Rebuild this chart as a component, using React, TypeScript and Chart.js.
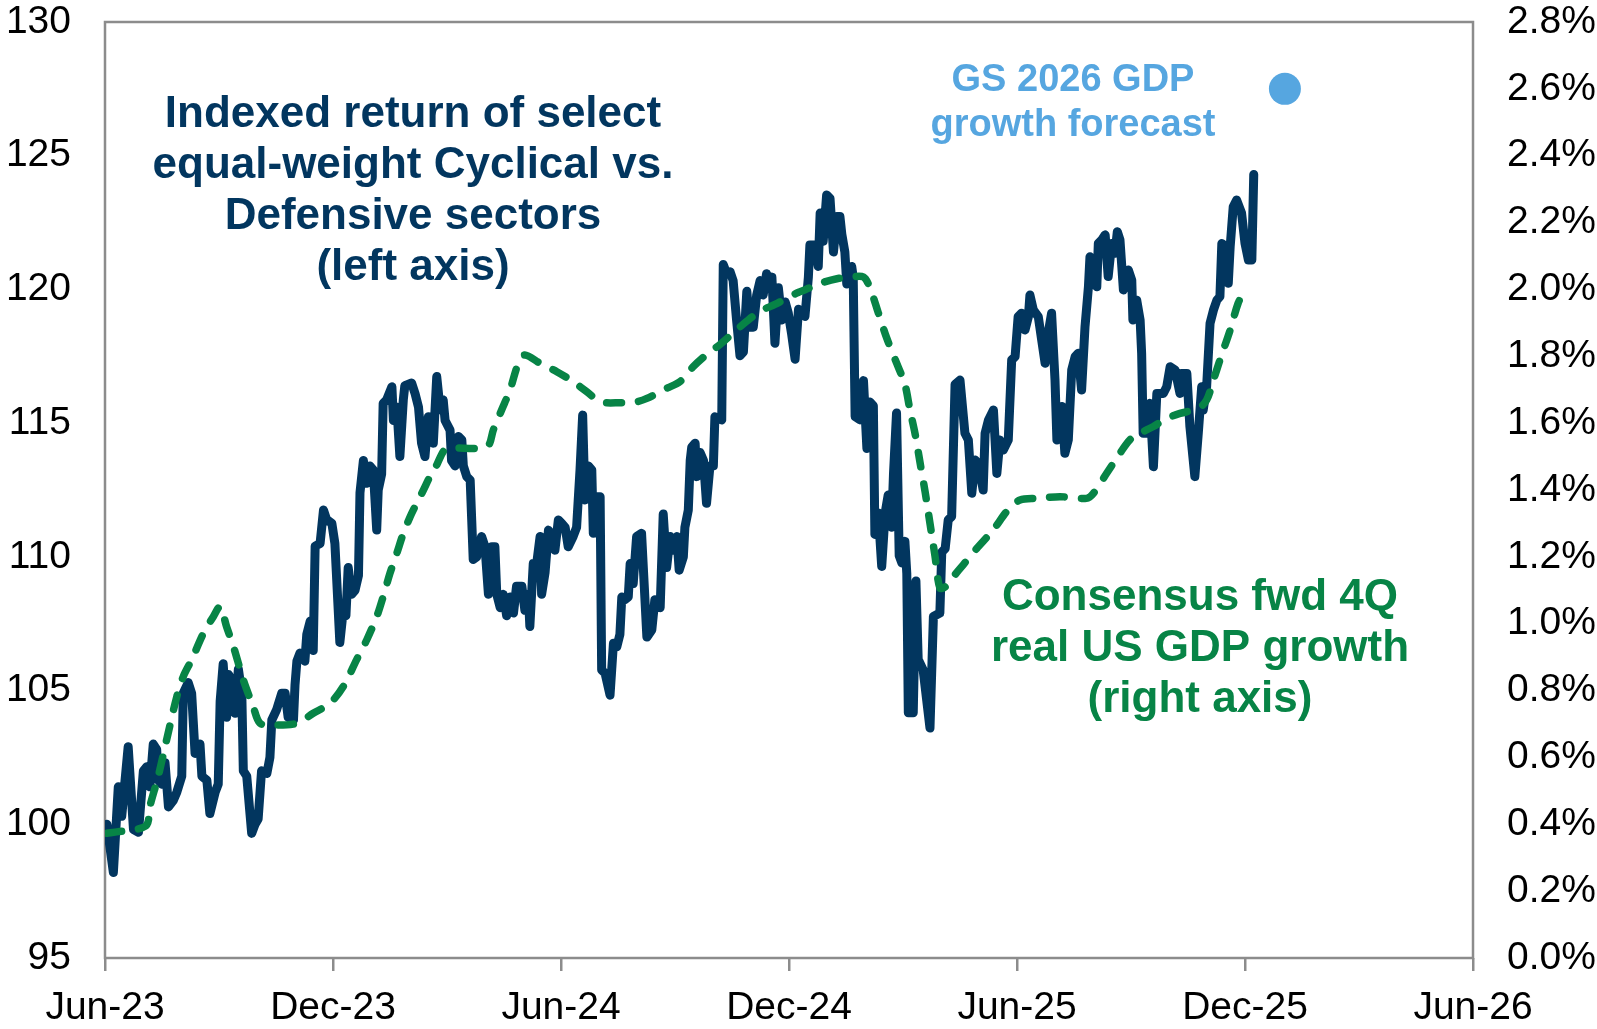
import React, { useEffect, useRef } from "react";
import { Chart, registerables } from "chart.js";

Chart.register(...registerables);

// x values are months elapsed since Jun-23
const xTickLabels = ["Jun-23", "Dec-23", "Jun-24", "Dec-24", "Jun-25", "Dec-25", "Jun-26"];
const leftTicks = [95, 100, 105, 110, 115, 120, 125, 130];
const rightTicks = [0, 0.2, 0.4, 0.6, 0.8, 1.0, 1.2, 1.4, 1.6, 1.8, 2.0, 2.2, 2.4, 2.6, 2.8];

const cycMonths = [
  0.05, 0.22, 0.35, 0.44, 0.61, 0.75, 0.88, 1.01, 1.10, 1.18, 1.27, 1.36, 1.40, 1.49, 1.58, 1.67, 1.80, 1.89, 2.02, 2.06,
  2.19, 2.28, 2.37, 2.50, 2.55, 2.68, 2.76, 2.90, 2.98, 3.03, 3.11, 3.20, 3.25, 3.33, 3.42, 3.51, 3.60, 3.64, 3.73, 3.86,
  3.95, 4.03, 4.12, 4.26, 4.34, 4.39, 4.52, 4.65, 4.74, 4.82, 4.96, 5.00, 5.05, 5.13, 5.26, 5.31, 5.40, 5.48, 5.53, 5.66,
  5.75, 5.83, 5.97, 6.05, 6.18, 6.27, 6.34, 6.40, 6.49, 6.58, 6.67, 6.71, 6.80, 6.89, 6.97, 7.06, 7.15, 7.19, 7.28, 7.32,
  7.41, 7.55, 7.59, 7.68, 7.76, 7.85, 7.89, 8.07, 8.16, 8.25, 8.33, 8.42, 8.51, 8.64, 8.73, 8.82, 8.90, 8.95, 9.08, 9.12,
  9.21, 9.30, 9.39, 9.43, 9.52, 9.61, 9.65, 9.69, 9.78, 9.91, 10.00, 10.09, 10.18, 10.26, 10.31, 10.40, 10.48, 10.57, 10.66, 10.75,
  10.83, 10.97, 11.05, 11.14, 11.18, 11.27, 11.36, 11.45, 11.49, 11.58, 11.67, 11.76, 11.84, 11.93, 12.02, 12.11, 12.19, 12.32, 12.41, 12.50,
  12.57, 12.63, 12.72, 12.81, 12.85, 12.94, 13.03, 13.07, 13.16, 13.29, 13.38, 13.47, 13.55, 13.60, 13.68, 13.77, 13.82, 13.90, 13.99, 14.12,
  14.26, 14.39, 14.47, 14.61, 14.69, 14.78, 14.87, 14.96, 15.05, 15.11, 15.22, 15.26, 15.35, 15.40, 15.44, 15.53, 15.57, 15.66, 15.75, 15.83,
  15.92, 16.01, 16.05, 16.23, 16.27, 16.36, 16.45, 16.53, 16.62, 16.71, 16.80, 16.89, 16.97, 17.06, 17.15, 17.24, 17.32, 17.41, 17.50, 17.55,
  17.63, 17.72, 17.81, 17.90, 17.98, 18.07, 18.16, 18.25, 18.33, 18.42, 18.51, 18.55, 18.68, 18.77, 18.82, 18.90, 18.99, 19.08, 19.17, 19.26,
  19.34, 19.39, 19.47, 19.52, 19.65, 19.69, 19.74, 19.87, 19.96, 20.05, 20.13, 20.22, 20.26, 20.35, 20.44, 20.53, 20.61, 20.70, 20.75, 20.83,
  20.90, 20.97, 21.05, 21.10, 21.14, 21.27, 21.34, 21.40, 21.53, 21.71, 21.80, 21.97, 22.02, 22.11, 22.19, 22.28, 22.37, 22.50, 22.63, 22.72,
  22.81, 22.90, 22.98, 23.11, 23.16, 23.25, 23.38, 23.47, 23.55, 23.64, 23.77, 23.86, 23.95, 24.03, 24.12, 24.21, 24.30, 24.34, 24.43, 24.56,
  24.65, 24.74, 24.82, 24.91, 25.00, 25.05, 25.18, 25.26, 25.35, 25.44, 25.53, 25.61, 25.70, 25.79, 25.88, 25.92, 26.01, 26.10, 26.14, 26.23,
  26.32, 26.40, 26.49, 26.58, 26.64, 26.71, 26.80, 26.89, 26.93, 27.02, 27.05, 27.15, 27.24, 27.28, 27.32, 27.41, 27.50, 27.59, 27.68, 27.76,
  27.85, 27.94, 28.03, 28.16, 28.29, 28.33, 28.47, 28.55, 28.68, 28.77, 28.86, 28.90, 28.99, 29.08, 29.17, 29.26, 29.34, 29.39, 29.47, 29.56,
  29.61, 29.69, 29.78, 29.91, 30.00, 30.09, 30.18, 30.23,
];
const cycIndex = [
  100.0, 98.2, 101.4, 100.3, 102.9, 99.8, 99.7, 102.0, 102.15, 101.4, 103.0, 102.8, 101.65, 101.5, 102.3, 100.65, 100.9, 101.2, 101.8, 104.9,
  105.3, 104.9, 102.65, 103.0, 101.8, 101.65, 100.4, 101.2, 101.5, 104.6, 106.0, 104.0, 105.6, 105.4, 104.15, 105.8, 104.9, 102.0, 101.8, 99.66,
  100.0, 100.2, 102.0, 101.9, 102.5, 103.9, 104.3, 104.9, 104.9, 104.0, 103.9, 105.2, 106.1, 106.4, 106.1, 107.1, 107.6, 106.5, 110.4, 110.5,
  111.75, 111.4, 111.25, 110.5, 106.8, 108.0, 107.8, 109.6, 108.6, 108.75, 109.3, 112.4, 113.6, 112.75, 113.4, 113.25, 111.0, 112.5, 113.1, 115.74,
  115.87, 116.36, 115.1, 115.6, 113.75, 115.87, 116.4, 116.5, 116.1, 115.6, 114.25, 113.75, 115.24, 114.25, 116.74, 115.5, 115.87, 115.1, 114.74, 113.6,
  113.4, 114.5, 114.37, 113.4, 113.0, 112.87, 111.38, 109.9, 110.0, 110.76, 110.38, 108.6, 110.38, 110.38, 108.6, 108.1, 108.6, 107.8, 108.5, 107.9,
  108.9, 108.9, 108.0, 108.6, 107.4, 109.75, 109.75, 110.76, 108.6, 109.4, 111.0, 110.76, 110.25, 111.38, 111.25, 111.1, 110.38, 110.76, 111.1, 113.25,
  115.3, 112.13, 113.4, 113.25, 110.88, 112.25, 112.25, 105.77, 105.65, 104.83, 106.77, 106.64, 107.1, 108.5, 108.4, 108.5, 109.75, 109.0, 110.76, 110.88,
  107.0, 107.27, 108.4, 108.1, 111.6, 109.6, 110.76, 110.25, 110.76, 109.5, 110.0, 111.1, 111.75, 113.6, 114.1, 114.25, 113.0, 113.9, 113.6, 112.0,
  113.4, 113.4, 115.24, 115.12, 120.93, 120.59, 120.66, 120.33, 118.86, 117.52, 117.66, 119.93, 118.59, 118.59, 119.79, 120.33, 119.79, 120.59, 120.06, 120.46,
  117.99, 120.06, 118.86, 119.53, 119.12, 118.32, 117.39, 119.26, 119.12, 118.99, 120.46, 121.66, 121.66, 120.86, 122.86, 121.8, 123.53, 123.4, 121.4, 122.73,
  122.73, 122.06, 121.4, 120.2, 120.86, 120.46, 115.25, 115.12, 116.59, 114.05, 115.79, 115.65, 110.84, 111.64, 109.64, 111.64, 112.31, 111.11, 113.11, 115.38,
  110.04, 109.77, 110.58, 109.38, 104.17, 104.17, 109.1, 106.17, 105.77, 103.6, 107.77, 107.9, 110.18, 110.31, 111.38, 111.51, 116.45, 116.61, 114.62, 114.37,
  112.38, 113.62, 113.5, 112.5, 114.62, 115.12, 115.49, 113.12, 114.37, 114.0, 114.37, 117.36, 117.49, 118.98, 119.11, 118.48, 118.98, 119.79, 119.23, 118.98,
  118.11, 117.24, 118.36, 119.11, 116.61, 114.37, 115.62, 113.87, 114.37, 116.99, 117.49, 117.61, 116.24, 118.61, 120.1, 121.22, 121.1, 120.1, 121.72, 121.85,
  122.04, 120.48, 121.72, 121.35, 122.16, 121.85, 119.98, 120.35, 120.73, 120.35, 118.86, 119.6, 118.86, 117.61, 114.62, 114.62, 115.74, 113.37, 116.11, 116.11,
  116.11, 116.36, 117.11, 116.99, 116.11, 116.86, 116.86, 114.87, 113.0, 114.62, 116.36, 115.49, 116.36, 118.73, 119.23, 119.6, 119.73, 121.72, 121.6, 120.23,
  121.6, 123.09, 123.34, 122.85, 121.72, 121.1, 121.1, 124.3,
];

const gdpMonths = [
  0.05, 0.35, 0.75, 1.10, 1.18, 1.40, 1.62, 1.89, 2.06, 2.28, 2.59, 2.85, 3.03, 3.20, 3.38, 3.64, 3.90, 4.08, 4.43, 5.05,
  5.48, 5.92, 6.27, 6.62, 6.89, 7.15, 7.32, 7.50, 7.68, 7.85, 8.03, 8.20, 8.38, 8.55, 8.73, 8.90, 9.03, 10.05, 10.22, 10.44,
  10.66, 10.88, 11.05, 11.45, 11.89, 12.32, 12.68, 13.03, 13.55, 13.99, 14.26, 14.78, 15.13, 15.48, 15.83, 16.18, 16.53, 16.89, 17.24, 17.63,
  18.20, 18.55, 18.90, 19.26, 19.61, 19.96, 20.13, 20.35, 20.57, 20.83, 21.05, 21.18, 21.32, 21.45, 21.58, 21.71, 21.84, 21.97, 22.11, 22.32,
  22.59, 22.94, 23.37, 23.76, 24.08, 24.52, 25.13, 25.83, 26.01, 26.36, 26.71, 26.97, 27.24, 27.59, 27.94, 28.29, 28.77, 28.99, 29.17, 29.34,
  29.61, 29.82, 30.00,
];
const gdpGrowth = [
  0.373, 0.378, 0.383, 0.398, 0.453, 0.543, 0.652, 0.782, 0.842, 0.892, 0.971, 1.021, 1.051, 0.991, 0.932, 0.832, 0.752, 0.702, 0.697, 0.702,
  0.732, 0.762, 0.812, 0.892, 0.952, 1.021, 1.081, 1.151, 1.211, 1.27, 1.32, 1.36, 1.40, 1.44, 1.475, 1.515, 1.525, 1.53, 1.58, 1.64,
  1.70, 1.78, 1.804, 1.779, 1.754, 1.724, 1.694, 1.664, 1.661, 1.664, 1.674, 1.704, 1.724, 1.769, 1.805, 1.835, 1.87, 1.905, 1.935, 1.955,
  1.989, 2.005, 2.021, 2.032, 2.037, 2.037, 2.005, 1.93, 1.855, 1.78, 1.716, 1.641, 1.567, 1.481, 1.396, 1.30, 1.204, 1.107, 1.11, 1.14,
  1.177, 1.225, 1.28, 1.34, 1.37, 1.375, 1.38, 1.375, 1.39, 1.45, 1.51, 1.55, 1.57, 1.59, 1.614, 1.629, 1.644, 1.669, 1.729, 1.789,
  1.879, 1.959, 1.998,
];

const gsForecastMonth = [31.05];
const gsForecastValue = [2.6];

const leftLabelLines = ["Indexed return of select", "equal-weight Cyclical vs.", "Defensive sectors", "(left axis)"];
const gsLabelLines = ["GS 2026 GDP", "growth forecast"];
const consensusLabelLines = ["Consensus fwd 4Q", "real US GDP growth", "(right axis)"];

const NAVY = "#02365F";
const GREEN = "#078446";
const LIGHT_BLUE = "#56A6E0";
const AXIS_GRAY = "#8C8C8C";
const FONT = "'Liberation Sans', Arial, sans-serif";

const boxPlugin = {
  id: "box",
  beforeDatasetsDraw(chart: any) {
    const { ctx, chartArea } = chart;
    ctx.save();
    ctx.strokeStyle = AXIS_GRAY;
    ctx.lineWidth = 2.5;
    ctx.strokeRect(chartArea.left, chartArea.top, chartArea.right - chartArea.left, chartArea.bottom - chartArea.top);
    ctx.restore();
  },
};

const textPlugin = {
  id: "texts",
  afterDatasetsDraw(chart: any) {
    const { ctx } = chart;
    ctx.save();
    ctx.textAlign = "center";
    ctx.textBaseline = "middle";
    ctx.font = `bold 44px ${FONT}`;
    ctx.fillStyle = NAVY;
    leftLabelLines.forEach((t, i) => ctx.fillText(t, 413, 115 + i * 51));
    ctx.font = `bold 38px ${FONT}`;
    ctx.fillStyle = LIGHT_BLUE;
    gsLabelLines.forEach((t, i) => ctx.fillText(t, 1073, 81 + i * 45));
    ctx.font = `bold 44px ${FONT}`;
    ctx.fillStyle = GREEN;
    consensusLabelLines.forEach((t, i) => ctx.fillText(t, 1200, 598 + i * 51));
    ctx.restore();
  },
};

const noScalePadding = (scale: any) => {
  scale.paddingTop = 0;
  scale.paddingBottom = 0;
};

export default function App() {
  const canvasRef = useRef<HTMLCanvasElement | null>(null);

  useEffect(() => {
    document.body.style.margin = "0";
    document.body.style.overflow = "hidden";
    const canvas = canvasRef.current;
    if (!canvas) return;

    const chart = new Chart(canvas, {
      type: "line",
      data: {
        datasets: [
          {
            label: "GS 2026 GDP growth forecast",
            type: "scatter",
            data: gsForecastMonth.map((m, i) => ({ x: m, y: gsForecastValue[i] })),
            yAxisID: "yRight",
            pointRadius: 16,
            pointBackgroundColor: LIGHT_BLUE,
            pointBorderWidth: 0,
            order: 0,
          } as any,
          {
            label: "Consensus fwd 4Q real US GDP growth",
            data: gdpMonths.map((m, i) => ({ x: m, y: gdpGrowth[i] })),
            yAxisID: "yRight",
            borderColor: GREEN,
            borderWidth: 7.5,
            borderDash: [15, 17],
            borderCapStyle: "round",
            borderJoinStyle: "round",
            pointRadius: 0,
            tension: 0.3,
            fill: false,
            order: 1,
          },
          {
            label: "Indexed return Cyclical vs. Defensive",
            data: cycMonths.map((m, i) => ({ x: m, y: cycIndex[i] })),
            yAxisID: "yLeft",
            borderColor: NAVY,
            borderWidth: 9,
            borderJoinStyle: "round",
            borderCapStyle: "round",
            pointRadius: 0,
            tension: 0,
            fill: false,
            order: 2,
          },
        ],
      },
      options: {
        responsive: false,
        animation: false,
        events: [],
        layout: { padding: { top: 22, left: 0, right: 0, bottom: 0 } },
        plugins: {
          legend: { display: false },
          tooltip: { enabled: false },
          title: { display: false },
        },
        scales: {
          x: {
            type: "linear",
            min: 0,
            max: 36,
            afterBuildTicks: (scale: any) => {
              scale.ticks = xTickLabels.map((_, i) => ({ value: i * 6 }));
            },
            afterFit: (scale: any) => {
              scale.height = 71;
              scale.paddingLeft = 0;
              scale.paddingRight = 0;
            },
            ticks: {
              autoSkip: false,
              maxRotation: 0,
              padding: 14,
              color: "#000",
              font: { family: FONT, size: 39 },
              callback: (v: any) => xTickLabels[Math.round(Number(v) / 6)] ?? "",
            },
            grid: {
              display: true,
              drawOnChartArea: false,
              drawTicks: true,
              tickLength: 13,
              color: AXIS_GRAY,
              lineWidth: 2.5,
            },
            border: { display: false },
          },
          yLeft: {
            type: "linear",
            position: "left",
            min: 95,
            max: 130,
            afterBuildTicks: (scale: any) => {
              scale.ticks = leftTicks.map((v) => ({ value: v }));
            },
            afterFit: (scale: any) => {
              scale.width = 105;
              noScalePadding(scale);
            },
            ticks: {
              padding: 34,
              color: "#000",
              font: { family: FONT, size: 39 },
              callback: (v: any) => String(v),
            },
            grid: { display: false, drawTicks: false },
            border: { display: false },
          },
          yRight: {
            type: "linear",
            position: "right",
            min: 0,
            max: 2.8,
            afterBuildTicks: (scale: any) => {
              scale.ticks = rightTicks.map((v) => ({ value: v }));
            },
            afterFit: (scale: any) => {
              scale.width = 124;
              noScalePadding(scale);
            },
            ticks: {
              padding: 34,
              color: "#000",
              font: { family: FONT, size: 39 },
              callback: (v: any) => Number(v).toFixed(1) + "%",
            },
            grid: { display: false, drawTicks: false },
            border: { display: false },
          },
        },
      },
      plugins: [boxPlugin, textPlugin],
    });

    return () => chart.destroy();
  }, []);

  return (
    <div style={{ width: 1597, height: 1029, background: "#fff" }}>
      <canvas ref={canvasRef} width={1597} height={1029} style={{ display: "block" }} />
    </div>
  );
}
